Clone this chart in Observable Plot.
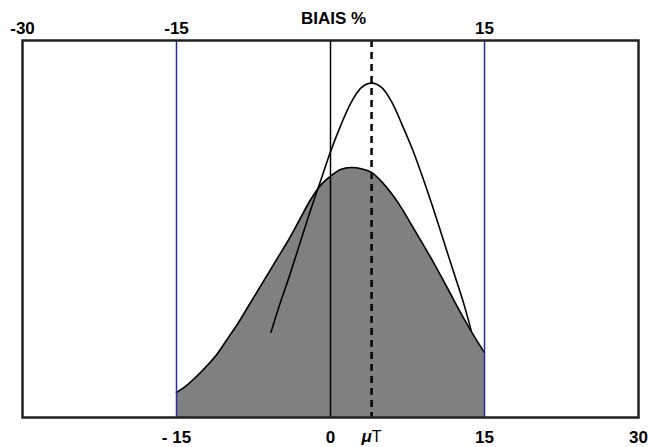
<!DOCTYPE html>
<html>
<head>
<meta charset="utf-8">
<script src="https://cdn.jsdelivr.net/npm/d3@7"></script>
<script src="https://cdn.jsdelivr.net/npm/@observablehq/plot@0.6"></script>
<style>
  html, body { margin: 0; padding: 0; background: #fff; }
  #chart svg { display: block; }
</style>
</head>
<body>
<div id="chart"></div>
<script>
// Filled (grey) distribution
const filledX = [-15, -14, -13, -12, -11, -10, -9, -8, -7, -6, -5, -4, -3, -2, -1, 0, 1, 2, 3, 4, 5, 6, 7, 8, 9, 10, 11, 12, 13, 14, 15];
const filledY = [6.6, 8.5, 11, 13.8, 17, 21, 25, 29.5, 34, 38.5, 43, 47.5, 52.5, 57.5, 61.5, 64, 65.8, 66.3, 66, 65, 62.5, 59.2, 55.2, 50.6, 46, 41.3, 36.3, 31.2, 26.2, 21.5, 17.2];

// Thin (unfilled) distribution
const thinX = [-5.8, -5, -4, -3, -2, -1, 0, 1, 2, 3, 4, 5, 6, 7, 8, 9, 10, 11, 12, 13, 13.7];
const thinY = [22.6, 29.5, 37.5, 46, 54.5, 62.5, 70.5, 77.5, 83.5, 87.5, 88.7, 87.5, 83.5, 77.5, 71, 63.5, 55.5, 47, 38.5, 30, 23.1];

// Reference lines
const limits = [-15, 15];
const zeroLine = [0];
const muT = [4];

// Tick labels
const topTicks = [-30, -15, 15];
const bottomTicks = [-15, 0, 15, 30];
const bottomLabels = ["- 15", "0", "15", "30"];
const title = "BIAIS %";

const filled = filledX.map((x, i) => ({x, y: filledY[i]}));
const thin = thinX.map((x, i) => ({x, y: thinY[i]}));

const font = "Liberation Sans, Arial, sans-serif";

const chart = Plot.plot({
  width: 648,
  height: 447,
  marginLeft: 22,
  marginRight: 10,
  marginTop: 40,
  marginBottom: 30,
  style: {fontFamily: font, background: "#fff"},
  x: {domain: [-30, 30], axis: null},
  y: {domain: [0, 100], axis: null},
  marks: [
    Plot.areaY(filled, {x: "x", y: "y", fill: "#808080", curve: "monotone-x"}),
    Plot.line(filled, {x: "x", y: "y", stroke: "#000", strokeWidth: 1.6, curve: "monotone-x"}),
    Plot.line(thin, {x: "x", y: "y", stroke: "#000", strokeWidth: 1.6, curve: "monotone-x"}),
    Plot.ruleX(limits, {stroke: "#2a2a9c", strokeWidth: 1.5}),
    Plot.ruleX(zeroLine, {stroke: "#000", strokeWidth: 1.5}),
    Plot.ruleX(muT, {stroke: "#000", strokeWidth: 2.5, strokeDasharray: "7,5"}),
    Plot.frame({stroke: "#222", strokeWidth: 2.5}),
    Plot.axisX(topTicks, {anchor: "top", tickSize: 0, tickPadding: 7, fontSize: 17, fontWeight: "bold", fill: "#000", label: null, tickFormat: d => String(d)}),
    Plot.text([title], {frameAnchor: "top", x: () => 0.3, dy: -29, text: d => d, fontSize: 17, fontWeight: "bold", fill: "#000"}),
    Plot.text(bottomTicks, {x: d => d, frameAnchor: "bottom", dy: 25, text: (d, i) => bottomLabels[i], fontSize: 17, fontWeight: "bold", fill: "#000"}),
    Plot.text(muT, {x: d => d, frameAnchor: "bottom", dx: -5, dy: 24, text: () => "\u03bc", fontSize: 17, fontWeight: "bold", fontStyle: "italic", fill: "#000"}),
    Plot.text(muT, {x: d => d, frameAnchor: "bottom", dx: 5, dy: 24, text: () => "T", fontSize: 16, fill: "#000"})
  ]
});

document.getElementById("chart").appendChild(chart);
</script>
</body>
</html>
